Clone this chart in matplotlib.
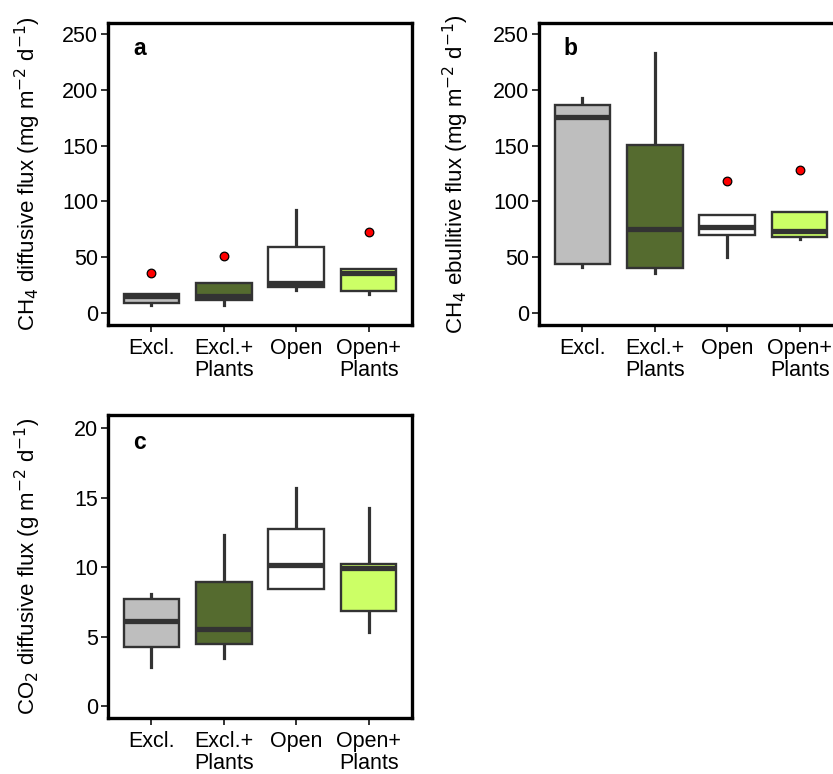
import matplotlib
matplotlib.use("Agg")
import matplotlib.pyplot as plt

plt.rcParams['font.family'] = ['Liberation Sans', 'DejaVu Sans']

categories = ["Excl.", "Excl.+\nPlants", "Open", "Open+\nPlants"]
colors = ["#BEBEBE", "#556B2F", "#FFFFFF", "#CCFF66"]

# Panel a: CH4 diffusive flux
a_whislo = [7, 7, 20.5, 17]
a_q1 = [9, 11.6, 23, 20]
a_med = [15, 15, 26.5, 35.5]
a_q3 = [17, 26.5, 59, 39.5]
a_whishi = [17, 26.5, 92, 39.5]
a_fliers = [[36], [51], [], [72.5]]

# Panel b: CH4 ebullitive flux
b_whislo = [41.5, 36, 50, 66]
b_q1 = [44, 40.6, 69.6, 68.4]
b_med = [176, 75.3, 77.3, 73.5]
b_q3 = [186.4, 150.3, 87.5, 90.2]
b_whishi = [192.4, 232.7, 87.5, 90.2]
b_fliers = [[], [], [118.3], [128]]

# Panel c: CO2 diffusive flux
c_whislo = [2.8, 3.45, 8.39, 5.3]
c_q1 = [4.27, 4.46, 8.39, 6.86]
c_med = [6.14, 5.56, 10.17, 9.9]
c_q3 = [7.68, 8.92, 12.73, 10.24]
c_whishi = [8.04, 12.28, 15.66, 14.22]
c_fliers = [[], [], [], []]

W, H = 833, 774
fig = plt.figure(figsize=(W / 100, H / 100), dpi=100)

def fx(px):
    return px / W

def fy(py):
    return 1 - py / H

ax_a = fig.add_axes([fx(108), fy(325), fx(304), 302 / H])
ax_b = fig.add_axes([fx(539), fy(325), fx(304), 302 / H])
ax_c = fig.add_axes([fx(108), fy(718), fx(304), 303 / H])

FS = 15.5

def draw(ax, whislo, q1, med, q3, whishi, fliers, ylim, yticks, ylabel,
         letter, lx, ly):
    stats = []
    for i in range(len(categories)):
        stats.append(dict(whislo=whislo[i], q1=q1[i], med=med[i], q3=q3[i],
                          whishi=whishi[i], fliers=fliers[i]))
    bp = ax.bxp(stats, positions=[1, 2, 3, 4], widths=0.77, patch_artist=True,
                showcaps=False,
                boxprops=dict(edgecolor="#333333", linewidth=1.7),
                whiskerprops=dict(color="#333333", linewidth=2.3),
                medianprops=dict(color="#333333", linewidth=3.8,
                                 solid_capstyle='butt'),
                flierprops=dict(marker='o', markerfacecolor='red',
                                markeredgecolor='black', markersize=6.2,
                                markeredgewidth=0.9))
    for patch, c in zip(bp['boxes'], colors):
        patch.set_facecolor(c)
    for w in bp['whiskers']:
        w.set_zorder(1)
    ax.set_xlim(0.4, 4.6)
    ax.set_ylim(*ylim)
    ax.set_yticks(yticks)
    ax.set_xticks([1, 2, 3, 4])
    ax.set_xticklabels(categories, fontsize=FS, color='black', linespacing=1.08)
    ax.tick_params(axis='y', labelsize=FS, length=5, width=1.4,
                   color='#333333', pad=2, labelcolor='black')
    ax.tick_params(axis='x', length=5, width=1.4, color='#333333', pad=4.5)
    for s in ax.spines.values():
        s.set_linewidth(2.4)
        s.set_color('black')
    ax.set_ylabel(ylabel, fontsize=16)
    ax.text(lx, ly, letter, transform=ax.transAxes, fontsize=16.5,
            fontweight='bold', ha='center', va='center')

draw(ax_a, a_whislo, a_q1, a_med, a_q3, a_whishi, a_fliers,
     (-10.75, 259.9), [0, 50, 100, 150, 200, 250],
     r"CH$_4$ diffusive flux (mg m$^{-2}$ d$^{-1}$)", "a", 0.105, 0.915)
ax_a.yaxis.set_label_coords(-0.215, 0.5)

draw(ax_b, b_whislo, b_q1, b_med, b_q3, b_whishi, b_fliers,
     (-10.75, 259.9), [0, 50, 100, 150, 200, 250],
     r"CH$_4$ ebullitive flux (mg m$^{-2}$ d$^{-1}$)", "b", 0.102, 0.915)
ax_b.yaxis.set_label_coords(-0.225, 0.5)

draw(ax_c, c_whislo, c_q1, c_med, c_q3, c_whishi, c_fliers,
     (-0.86, 20.94), [0, 5, 10, 15, 20],
     r"CO$_2$ diffusive flux (g m$^{-2}$ d$^{-1}$)", "c", 0.105, 0.908)
ax_c.yaxis.set_label_coords(-0.215, 0.5)

fig.savefig("out.png", dpi=100)
